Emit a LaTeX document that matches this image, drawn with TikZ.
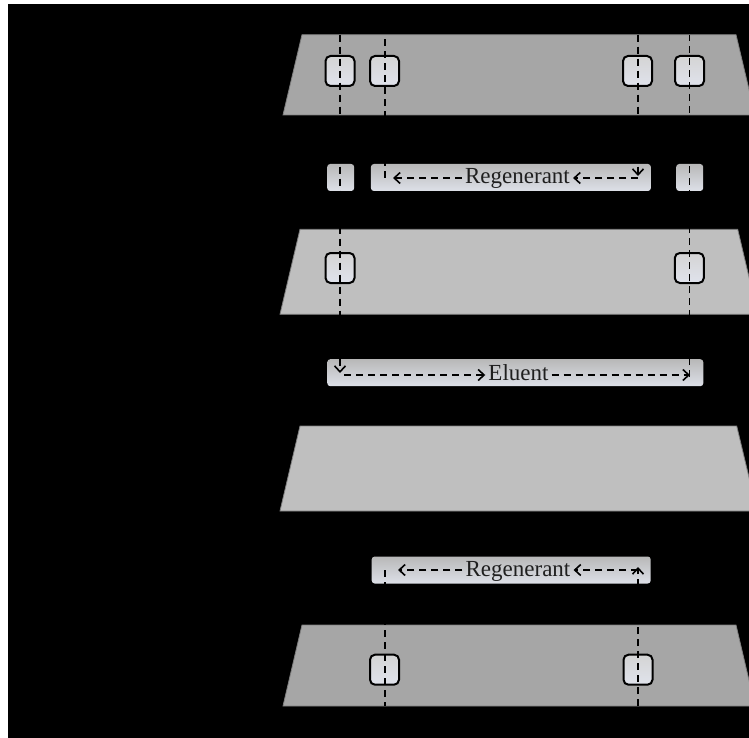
\documentclass[tikz,border=0pt]{standalone}
\usepackage{fontspec}
\setmainfont{Liberation Serif}
\usetikzlibrary{arrows.meta}
\definecolor{platedark}{HTML}{A6A6A6}
\definecolor{platelight}{HTML}{BFBFBF}
\definecolor{plateedge}{HTML}{7F7F7F}
\definecolor{porttop}{HTML}{D4D4D4}
\definecolor{portbot}{HTML}{E0E3EC}
\definecolor{gaskettop}{HTML}{B8B8B8}
\definecolor{gasketbot}{HTML}{DDE0E8}
\definecolor{inkc}{HTML}{000000}
\tikzset{
  plate/.style={draw=plateedge,line width=0.8pt},
  port/.style={draw=black,line width=2pt,rounded corners=5pt,minimum width=29pt,minimum height=30pt,inner sep=0pt,top color=porttop,bottom color=portbot},
  gasket/.style={rounded corners=3pt,inner sep=0pt,top color=gaskettop,bottom color=gasketbot,minimum height=27pt},
  axisline/.style={draw=inkc,line width=1.6pt,dash pattern=on 7pt off 5pt},
  flow/.style={axisline,-{Straight Barb[length=6pt,width=11pt,line width=1.6pt]}},
  lbl/.style={font=\fontsize{23}{27}\selectfont,text=black!88,inner sep=3pt,anchor=base}
}
\begin{document}
\begin{tikzpicture}[x=1pt,y=-1pt]
\useasboundingbox (0,0) rectangle (749,738);
\fill[white] (0,0) rectangle (749,738);
\fill[black] (8,4) rectangle (749,738);

% plates
\filldraw[plate,fill=platedark] (302,34.7) -- (736,34.7) -- (755,115) -- (283,115) -- cycle;
\filldraw[plate,fill=platelight] (300,229.3) -- (737.7,229.3) -- (757.7,314.3) -- (280,314.3) -- cycle;
\filldraw[plate,fill=platelight] (300,426) -- (736.7,426) -- (757,511) -- (280,511) -- cycle;
\filldraw[plate,fill=platedark] (302,625) -- (736,625) -- (755,706) -- (283,706) -- cycle;

% ports
\node[port] (p1a) at (340,71) {};
\node[port] (p1b) at (384.5,71) {};
\node[port] (p1c) at (637.5,71) {};
\node[port] (p1d) at (689.5,71) {};
\node[port] (p2a) at (340,268) {};
\node[port] (p2b) at (689.3,268) {};
\node[port] (p4a) at (384.5,669.7) {};
\node[port] (p4b) at (638,669.7) {};

% gaskets
\node[gasket,minimum width=27pt] (g1l) at (340.7,177.5) {};
\node[gasket,minimum width=280pt] (g1) at (510.9,177.5) {};
\node[gasket,minimum width=27pt] (g1r) at (689.7,177.5) {};
\node[gasket,minimum width=376pt] (g2) at (515.3,372.7) {};
\node[gasket,minimum width=279pt] (g3) at (511.2,570) {};

% labels
\node[lbl] (r1) at (517.5,183) {Regenerant};
\node[lbl] (el) at (518.5,380.7) {Eluent};
\node[lbl] (r3) at (518,576.7) {Regenerant};

% coordinates
\coordinate (ta) at (340,34.7);
\coordinate (tb) at (385,34.7);
\coordinate (tc) at (638,34.7);
\coordinate (td) at (689.3,34.7);
\coordinate (g1in) at (638,176);
\coordinate (g1h) at (638,178);
\coordinate (g1out) at (393,178);
\coordinate (g1up) at (385,178);
\coordinate (g2in) at (340,373);
\coordinate (g2h) at (344,375);
\coordinate (g2end) at (690,375);
\coordinate (g2up) at (689.3,377);
\coordinate (bb) at (385,706);
\coordinate (bc) at (638,706);
\coordinate (g3in) at (638,567);
\coordinate (g3h) at (638,570);
\coordinate (g3out) at (398,570);
\coordinate (g3dn) at (385,570);

% vertical axes through plates
\draw[flow] (tc) -- (g1in);
\draw[axisline] (g1up) -- (tb);
\draw[flow] (ta) -- (g2in);
\draw[axisline] (g2up) -- (td);
\draw[flow] (bc) -- (g3in);
\draw[axisline] (g3dn) -- (bb);

% horizontal flows
\draw[flow] (g1h) -- (r1.east |- g1h);
\draw[flow] (r1.west |- g1h) -- (g1out);
\draw[flow] (g2h) -- (el.west |- g2h);
\draw[flow] (el.east |- g2h) -- (g2end);
\draw[flow] (g3h) -- (r3.east |- g3h);
\draw[flow] (r3.west |- g3h) -- (g3out);
\end{tikzpicture}
\end{document}
